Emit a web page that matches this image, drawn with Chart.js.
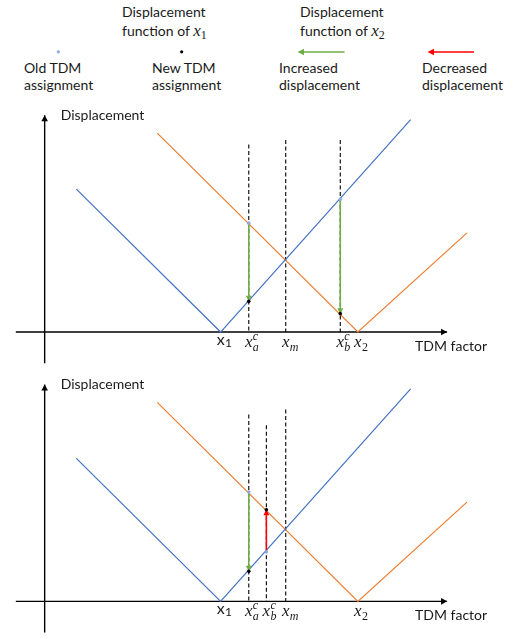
<!DOCTYPE html>
<html>
<head>
<meta charset="utf-8">
<script src="https://cdn.jsdelivr.net/npm/chart.js@4.4.1/dist/chart.umd.min.js"></script>
<style>
  body { margin: 0; width: 519px; height: 639px; background: #fff; position: relative; overflow: hidden; }
  .lg { position: absolute; font: 14px/18.5px Lato, "Open Sans", sans-serif; color: #1a1a1a; white-space: nowrap; }
  .m { font-family: "Liberation Serif", "DejaVu Serif", serif; font-style: italic; font-size: 17px; }
  .m sub { font-size: 12px; font-style: normal; vertical-align: -3px; line-height: 0; }
  canvas { position: absolute; left: 0; }
  #keys { position: absolute; left: 0; top: 45px; }
</style>
</head>
<body>
<div class="lg" style="left:122px;top:3px">Displacement<br>function of <span class="m">x<sub>1</sub></span></div>
<div class="lg" style="left:300px;top:3px">Displacement<br>function of <span class="m">x<sub>2</sub></span></div>
<svg id="keys" width="519" height="14">
  <circle cx="58.3" cy="6.8" r="1.6" fill="#8FAADC"/>
  <circle cx="181.7" cy="6.8" r="1.6" fill="#000"/>
  <line x1="344.5" y1="7" x2="302" y2="7" stroke="#70AD47" stroke-width="1.6"/>
  <polygon points="297.5,7 304,3.8 304,10.2" fill="#70AD47"/>
  <line x1="474" y1="7" x2="432" y2="7" stroke="#FF0000" stroke-width="1.6"/>
  <polygon points="427.5,7 434,3.8 434,10.2" fill="#FF0000"/>
</svg>
<div class="lg" style="left:24px;top:59px;line-height:17px">Old TDM<br>assignment</div>
<div class="lg" style="left:152px;top:59px;line-height:17px">New TDM<br>assignment</div>
<div class="lg" style="left:279px;top:59px;line-height:17px">Increased<br>displacement</div>
<div class="lg" style="left:422px;top:59px;line-height:17px">Decreased<br>displacement</div>

<canvas id="chartTop" width="519" height="270" style="top:100px"></canvas>
<canvas id="chartBottom" width="519" height="269" style="top:370px"></canvas>

<script>
// displacement functions (left end, minimum, right end)
const blueX = [1.8, 10.0, 20.8];
const blueY = [8.24, 0, 12.25];
const orangeX = [6.4, 17.8, 24.0];
const orangeY = [11.47, 0, 5.72];

// axis extents (TDM factor / displacement)
const axisX = [-1.64, 22.87];
const axisY = [-1.8, 12.5];

// tick labels: position and [base, subscript, superscript]
const topTickX = [10.0, 11.6, 13.7, 16.8, 17.8];
const topTickText = [['x', '1', ''], ['x', 'a', 'c'], ['x', 'm', ''], ['x', 'b', 'c'], ['x', '2', '']];
const bottomTickX = [10.0, 11.6, 12.6, 13.7, 17.8];
const bottomTickText = [['x', '1', ''], ['x', 'a', 'c'], ['x', 'b', 'c'], ['x', 'm', ''], ['x', '2', '']];

// dashed guides: position and top end
const topGuideX = [11.6, 13.7, 16.8];
const topGuideTop = [10.82, 11.08, 11.08];
const bottomGuideX = [11.6, 12.6, 13.7];
const bottomGuideTop = [10.78, 10.16, 11.06];

// reassignments: old displacement -> new displacement
const topMoveX = [11.6, 16.8];
const topOldY = [6.28, 7.65];
const topNewY = [1.77, 1.06];
const topMoveKind = ['inc', 'inc'];
const bottomMoveX = [11.6, 12.6];
const bottomOldY = [6.3, 2.85];
const bottomNewY = [1.73, 5.28];
const bottomMoveKind = ['inc', 'dec'];

const moveColors = { inc: '#70AD47', dec: '#FF0000' };
const sansFont = 'Lato, "Open Sans", sans-serif';
const mathFont = '"Liberation Serif", "DejaVu Serif", serif';

function pairs(xs, ys) {
  return xs.map((x, i) => ({ x: x, y: ys[i] }));
}

// arrow head at the end of a dataset's line
const arrowHeads = {
  id: 'arrowHeads',
  afterDatasetDraw(chart, args) {
    const ds = chart.data.datasets[args.index];
    if (!ds.arrow) return;
    const pts = args.meta.data;
    const end = pts[pts.length - 1], prev = pts[pts.length - 2];
    const a = Math.atan2(end.y - prev.y, end.x - prev.x);
    const len = ds.arrow, half = ds.arrow * 0.55;
    const ctx = chart.ctx;
    ctx.save();
    ctx.translate(end.x, end.y);
    ctx.rotate(a);
    ctx.beginPath();
    ctx.moveTo(0, 0);
    ctx.lineTo(-len, -half);
    ctx.lineTo(-len, half);
    ctx.closePath();
    ctx.fillStyle = ds.borderColor;
    ctx.fill();
    ctx.restore();
  }
};

// math style tick labels and axis titles
const axisText = {
  id: 'axisText',
  afterDraw(chart, args, opts) {
    const ctx = chart.ctx;
    const sx = chart.scales.x, sy = chart.scales.y;
    const y0 = sy.getPixelForValue(0);
    ctx.save();
    ctx.fillStyle = '#1a1a1a';
    ctx.textAlign = 'left';
    ctx.textBaseline = 'alphabetic';
    opts.ticks.forEach((pos, i) => {
      const [base, sub, sup] = opts.text[i];
      const cx = sx.getPixelForValue(pos);
      const upright = sub === '1';
      ctx.font = upright ? '16px ' + sansFont : 'italic 17px ' + mathFont;
      const bw = ctx.measureText(base).width;
      const left = cx - bw / 2;
      const by = y0 + (upright ? 12.5 : 14.5);
      ctx.fillText(base, left, by);
      const after = left + bw + 0.3;
      if (sub) {
        ctx.font = upright ? '12px ' + sansFont : (/\d/.test(sub) ? '12px ' : 'italic 12px ') + mathFont;
        ctx.fillText(sub, after, by + (upright ? 2.5 : 4));
      }
      if (sup) {
        ctx.font = 'italic 12px ' + mathFont;
        ctx.fillText(sup, after, by - 6.5);
      }
    });
    ctx.font = '14px ' + sansFont;
    ctx.textBaseline = 'middle';
    ctx.fillText('TDM factor', sx.getPixelForValue(axisX[1]) - 32, y0 + 14);
    ctx.fillText('Displacement', sx.getPixelForValue(0) + 16, sy.getPixelForValue(axisY[1]));
    ctx.restore();
  }
};

function buildChart(id, yMin, yMax, ticks, text, guideX, guideTop, moveX, oldY, newY, kind) {
  const datasets = [];
  datasets.push({ data: pairs(moveX, newY), showLine: false, pointRadius: 1.8, pointBackgroundColor: '#000', pointBorderWidth: 0, order: 0 });
  datasets.push({ data: pairs(moveX, oldY), showLine: false, pointRadius: 1.8, pointBackgroundColor: '#8FAADC', pointBorderWidth: 0, order: 1 });
  moveX.forEach((x, i) => {
    datasets.push({ data: [{ x: x, y: oldY[i] }, { x: x, y: newY[i] }], borderColor: moveColors[kind[i]], borderWidth: 1.6, arrow: 5.5, order: 2 });
  });
  datasets.push({ data: pairs(blueX, blueY), borderColor: '#4472C4', borderWidth: 1.2, order: 3 });
  datasets.push({ data: pairs(orangeX, orangeY), borderColor: '#ED7D31', borderWidth: 1.2, order: 3 });
  guideX.forEach((x, i) => {
    datasets.push({ data: [{ x: x, y: guideTop[i] }, { x: x, y: 0 }], borderColor: '#000', borderWidth: 1.1, borderDash: [4, 2.5], order: 4 });
  });
  datasets.push({ data: [{ x: axisX[0], y: 0 }, { x: axisX[1], y: 0 }], borderColor: '#000', borderWidth: 1.4, arrow: 6, order: 5 });
  datasets.push({ data: [{ x: 0, y: axisY[0] }, { x: 0, y: axisY[1] }], borderColor: '#000', borderWidth: 1.4, arrow: 6, order: 5 });
  datasets.forEach(d => {
    if (d.showLine !== false) { d.showLine = true; d.pointRadius = 0; }
  });

  new Chart(document.getElementById(id), {
    type: 'scatter',
    data: { datasets: datasets },
    options: {
      responsive: false,
      animation: false,
      events: [],
      layout: { padding: 0 },
      scales: {
        x: { type: 'linear', display: false, min: -2.311, max: 26.73 },
        y: { type: 'linear', display: false, min: yMin, max: yMax }
      },
      plugins: {
        legend: { display: false },
        tooltip: { enabled: false },
        axisText: { ticks: ticks, text: text }
      }
    },
    plugins: [arrowHeads, axisText]
  });
}

buildChart('chartTop', -1.959, 13.15, topTickX, topTickText, topGuideX, topGuideTop, topMoveX, topOldY, topNewY, topMoveKind);
buildChart('chartBottom', -1.942, 13.11, bottomTickX, bottomTickText, bottomGuideX, bottomGuideTop, bottomMoveX, bottomOldY, bottomNewY, bottomMoveKind);
</script>
</body>
</html>
